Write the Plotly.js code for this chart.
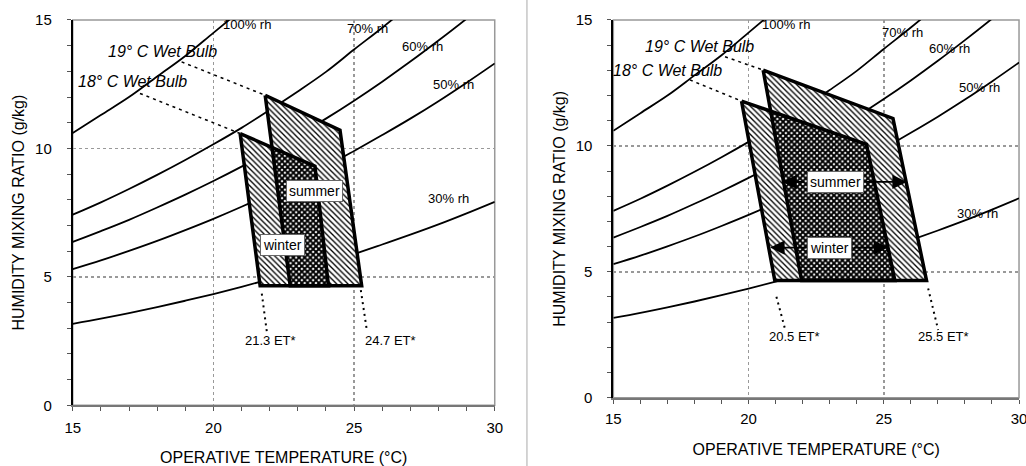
<!DOCTYPE html>
<html>
<head>
<meta charset="utf-8">
<script src="https://cdn.plot.ly/plotly-3.0.1.min.js"></script>
<style>html,body{margin:0;padding:0;background:#fff;}#chart{width:1026px;height:466px;}</style>
</head>
<body>
<div id="chart"></div>
<script>
// ---- relative-humidity curves (humidity ratio g/kg vs operative temperature °C) ----
const tempC = [15,16,17,18,19,20,21,22,23,24,25,26,27,28,29,30];
const rh100W = [10.6, 11.3, 12.0, 12.8, 13.6, 14.5, 15.4];                         // T 15..21
const rh70W  = [7.42, 7.9, 8.42, 8.97, 9.55, 10.16, 10.8, 11.5, 12.22, 12.98, 13.85, 14.7, 15.6]; // T 15..27
const rh60W  = [6.36, 6.78, 7.22, 7.70, 8.20, 8.73, 9.29, 9.88, 10.50, 11.16, 11.86, 12.6, 13.38, 14.2, 15.05, 15.95];
const rh50W  = [5.30, 5.64, 6.01, 6.40, 6.82, 7.26, 7.73, 8.23, 8.75, 9.30, 9.90, 10.52, 11.16, 11.84, 12.56, 13.31];
const rh30W  = [3.17, 3.37, 3.59, 3.82, 4.07, 4.33, 4.61, 4.91, 5.22, 5.55, 5.89, 6.26, 6.64, 7.04, 7.47, 7.92];
const rhLabels = ['100% rh','70% rh','60% rh','50% rh','30% rh'];

// ---- left panel: comfort zones (21.3 – 24.7 ET*) ----
const leftWinterT  = [20.95, 23.61, 24.09, 21.66];
const leftWinterW  = [10.58, 9.31, 4.65, 4.65];
const leftSummerT  = [21.84, 24.50, 25.27, 22.73];
const leftSummerW  = [12.07, 10.71, 4.65, 4.65];
const leftOverlapT = [22.10, 23.61, 24.09, 22.73];
const leftOverlapW = [10.01, 9.31, 4.65, 4.65];
const leftWb18T = [17.39, 20.95], leftWb18W = [12.14, 10.58];
const leftWb19T = [18.87, 21.84], leftWb19W = [13.37, 12.07];
const leftEtLoT = [21.72, 21.90], leftEtLoW = [4.35, 2.85];
const leftEtHiT = [25.24, 25.45], leftEtHiW = [4.48, 2.95];
const leftEtLabels = ['21.3 ET*', '24.7 ET*'];
const leftEtLabelT = [22.02, 26.30], leftEtLabelW = [2.53, 2.53];
const leftRhLabelT = [21.19, 25.48, 27.43, 28.52, 28.34];
const leftRhLabelW = [14.84, 14.67, 13.96, 12.47, 8.05];
const leftWbLabelT = [17.14, 18.19], leftWbLabelW = [12.59, 13.76];
const leftSeasonT = [23.61, 22.47], leftSeasonW = [8.34, 6.23];

// ---- right panel: comfort zones (20.5 – 25.5 ET*) ----
const rightWinterT  = [19.74, 24.36, 25.41, 20.97];
const rightWinterW  = [11.78, 10.06, 4.65, 4.65];
const rightSummerT  = [20.54, 25.34, 26.58, 21.96];
const rightSummerW  = [13.01, 11.09, 4.65, 4.65];
const rightOverlapT = [20.82, 24.36, 25.41, 21.96];
const rightOverlapW = [11.38, 10.06, 4.65, 4.65];
const rightWb18T = [17.83, 19.74], rightWb18W = [12.62, 11.78];
const rightWb19T = [19.13, 20.54], rightWb19W = [13.54, 13.01];
const rightEtLoT = [21.03, 21.34], rightEtLoW = [4.01, 2.76];
const rightEtHiT = [26.64, 27.01], rightEtHiW = [4.34, 2.69];
const rightEtLabels = ['20.5 ET*', '25.5 ET*'];
const rightEtLabelT = [21.69, 27.19], rightEtLabelW = [2.42, 2.42];
const rightRhLabelT = [21.38, 25.70, 27.44, 28.55, 28.47];
const rightRhLabelW = [14.84, 14.51, 13.88, 12.33, 7.30];
const rightWbLabelT = [17.02, 18.20], rightWbLabelW = [12.99, 13.94];
const rightSeasonT = [23.21, 23.01], rightSeasonW = [8.57, 5.96];
// arrows: [tail, tip] temperatures at a fixed humidity ratio
const rightSummerArrowW = 8.57;
const rightSummerArrowTailT = [22.12, 24.29], rightSummerArrowTipT = [21.25, 25.85];
const rightWinterArrowW = 5.96;
const rightWinterArrowTailT = [22.19, 23.84], rightWinterArrowTipT = [20.80, 25.16];

const wbLabels = ['18° C Wet Bulb', '19° C Wet Bulb'];
const seasonLabels = ['summer', 'winter'];

const FONT = 'Liberation Sans, Arial, sans-serif';
const traces = [];
const annotations = [];

function panel(sfx, d) {
  const xa = 'x' + sfx, ya = 'y' + sfx;
  const line = (x, y, opts) => traces.push(Object.assign({type:'scatter', mode:'lines', x:x, y:y, xaxis:xa, yaxis:ya, hoverinfo:'skip'}, opts));
  const rhSets = [rh100W, rh70W, rh60W, rh50W, rh30W];
  rhSets.forEach(w => line(tempC.slice(0, w.length), w, {line:{color:'black', width:1.8, shape:'spline'}}));
  line(d.wb18T, d.wb18W, {line:{color:'black', width:1.5, dash:'3px,4px'}});
  line(d.wb19T, d.wb19W, {line:{color:'black', width:1.5, dash:'3px,4px'}});
  line(d.etLoT, d.etLoW, {line:{color:'black', width:2, dash:'2px,4px'}});
  line(d.etHiT, d.etHiW, {line:{color:'black', width:2, dash:'2px,4px'}});
  const hatch = {shape:'\\', fgcolor:'black', bgcolor:'white', size:4, solidity:0.33};
  line(d.winterT, d.winterW, {fill:'toself', fillpattern:hatch, line:{width:0}});
  line(d.summerT, d.summerW, {fill:'toself', fillpattern:hatch, line:{width:0}});
  line(d.overlapT, d.overlapW, {fill:'toself', fillpattern:{shape:'x', fgcolor:'black', bgcolor:'white', size:4, solidity:0.72}, line:{width:0}});
  line(d.winterT.concat([d.winterT[0]]), d.winterW.concat([d.winterW[0]]), {line:{color:'black', width:3.5}});
  line(d.summerT.concat([d.summerT[0]]), d.summerW.concat([d.summerW[0]]), {line:{color:'black', width:3.5}});

  const txt = (t, x, y, font, extra) => annotations.push(Object.assign({text:t, x:x, y:y, xref:xa, yref:ya, showarrow:false, xanchor:'center', yanchor:'middle', font:Object.assign({family:FONT, color:'black'}, font)}, extra || {}));
  rhLabels.forEach((t, i) => txt(t, d.rhLabelT[i], d.rhLabelW[i], {size:13}));
  wbLabels.forEach((t, i) => txt(t, d.wbLabelT[i], d.wbLabelW[i], {size:16, style:'italic'}));
  d.etLabels.forEach((t, i) => txt(t, d.etLabelT[i], d.etLabelW[i], {size:13}));
  seasonLabels.forEach((t, i) => txt(t, d.seasonT[i], d.seasonW[i], {size:14}, {bgcolor:'white', bordercolor:'#666', borderwidth:1, borderpad:2}));
}

panel('', {winterT:leftWinterT, winterW:leftWinterW, summerT:leftSummerT, summerW:leftSummerW,
  overlapT:leftOverlapT, overlapW:leftOverlapW, wb18T:leftWb18T, wb18W:leftWb18W, wb19T:leftWb19T, wb19W:leftWb19W,
  etLoT:leftEtLoT, etLoW:leftEtLoW, etHiT:leftEtHiT, etHiW:leftEtHiW, etLabels:leftEtLabels, etLabelT:leftEtLabelT, etLabelW:leftEtLabelW,
  rhLabelT:leftRhLabelT, rhLabelW:leftRhLabelW, wbLabelT:leftWbLabelT, wbLabelW:leftWbLabelW, seasonT:leftSeasonT, seasonW:leftSeasonW});
panel('2', {winterT:rightWinterT, winterW:rightWinterW, summerT:rightSummerT, summerW:rightSummerW,
  overlapT:rightOverlapT, overlapW:rightOverlapW, wb18T:rightWb18T, wb18W:rightWb18W, wb19T:rightWb19T, wb19W:rightWb19W,
  etLoT:rightEtLoT, etLoW:rightEtLoW, etHiT:rightEtHiT, etHiW:rightEtHiW, etLabels:rightEtLabels, etLabelT:rightEtLabelT, etLabelW:rightEtLabelW,
  rhLabelT:rightRhLabelT, rhLabelW:rightRhLabelW, wbLabelT:rightWbLabelT, wbLabelW:rightWbLabelW, seasonT:rightSeasonT, seasonW:rightSeasonW});

function arrows(tails, tips, w) {
  tails.forEach((t, i) => annotations.push({x:tips[i], y:w, ax:t, ay:w, xref:'x2', yref:'y2', axref:'x2', ayref:'y2',
    text:'', showarrow:true, arrowhead:2, arrowsize:1.8, arrowwidth:1.6, arrowcolor:'black', standoff:0, startstandoff:0}));
}
arrows(rightSummerArrowTailT, rightSummerArrowTipT, rightSummerArrowW);
arrows(rightWinterArrowTailT, rightWinterArrowTipT, rightWinterArrowW);

function xAxis(domain, anchor, lstand, tstand) {
  return {domain:domain, anchor:anchor, range:[15,30], tickvals:[15,20,25,30], ticks:'outside', ticklen:4, tickcolor:'#555', tickwidth:1,
    minor:{dtick:1, tick0:15, ticks:'outside', ticklen:4, tickcolor:'#555', showgrid:false},
    showgrid:true, gridcolor:'#999', griddash:'dot', gridwidth:1.5, zeroline:false,
    showline:true, linecolor:'#777', linewidth:2, ticklabelstandoff:lstand, ticklabeloverflow:'allow',
    tickfont:{size:15, family:FONT, color:'black'},
    title:{text:'OPERATIVE TEMPERATURE (°C)', font:{size:16, family:FONT, color:'black'}, standoff:tstand}};
}
function yAxis(domain, anchor, tstand) {
  return {domain:domain, anchor:anchor, range:[0,15], tickvals:[0,5,10,15], ticks:'outside', ticklen:4, tickcolor:'#555', tickwidth:1,
    minor:{dtick:1, tick0:0, ticks:'outside', ticklen:4, tickcolor:'#555', showgrid:false},
    showgrid:true, gridcolor:'#999', griddash:'dot', gridwidth:1.5, zeroline:false,
    showline:true, linecolor:'black', linewidth:2, ticklabelstandoff:12,
    tickfont:{size:15, family:FONT, color:'black'},
    title:{text:'HUMIDITY MIXING RATIO (g/kg)', font:{size:16, family:FONT, color:'black'}, standoff:tstand}};
}

const layout = {
  width:1026, height:466, margin:{l:0, r:0, t:0, b:0},
  paper_bgcolor:'white', plot_bgcolor:'white', showlegend:false,
  font:{family:FONT, color:'black'},
  xaxis: xAxis([0.0709, 0.4822], 'y', 4, 17),
  yaxis: yAxis([0.1303, 0.9571], 'x', 6),
  xaxis2: xAxis([0.5978, 0.9932], 'y2', 2, 18),
  yaxis2: yAxis([0.1466, 0.9571], 'x2', 6),
  annotations: annotations,
  shapes: [
    {type:'rect', xref:'x domain', yref:'y domain', x0:0, x1:1, y0:0, y1:1, line:{color:'#999', width:1.5}, layer:'below'},
    {type:'rect', xref:'x2 domain', yref:'y2 domain', x0:0, x1:1, y0:0, y1:1, line:{color:'#999', width:1.5}, layer:'below'},
    {type:'line', xref:'paper', yref:'paper', x0:0.5136, x1:0.5136, y0:0, y1:1, line:{color:'#aaa', width:1}}
  ]
};

Plotly.newPlot('chart', traces, layout, {staticPlot:true, displayModeBar:false});
</script>
</body>
</html>
